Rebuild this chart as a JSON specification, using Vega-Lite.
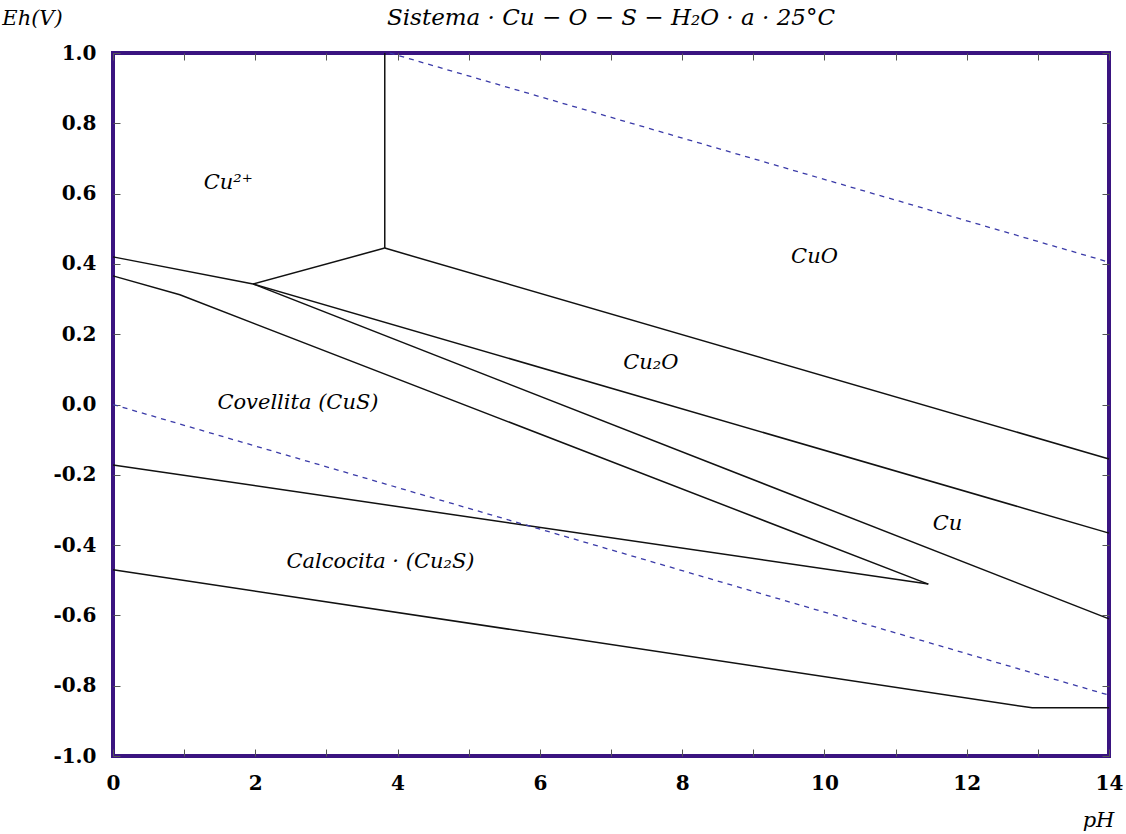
{
  "$schema": "https://vega.github.io/schema/vega-lite/v6.json",
  "width": 996,
  "height": 703,
  "autosize": {"type": "none"},
  "padding": {"left": 113, "top": 53, "right": 17, "bottom": 78},
  "background": "white",
  "config": {"view": {"stroke": "#3a1480", "strokeWidth": 4}},
  "title": {
    "text": "Sistema · Cu − O − S − H₂O · a · 25°C",
    "font": "DejaVu Serif",
    "fontStyle": "italic",
    "fontWeight": "normal",
    "fontSize": 23,
    "color": "#000",
    "anchor": "middle",
    "offset": -23
  },
  "datasets": {
    "solid": [
      {"seg": "A", "i": 0, "pH": 3.82, "Eh": 1.0},
      {"seg": "A", "i": 1, "pH": 3.82, "Eh": 0.445},
      {"seg": "B", "i": 0, "pH": 1.97, "Eh": 0.343},
      {"seg": "B", "i": 1, "pH": 3.82, "Eh": 0.445},
      {"seg": "C", "i": 0, "pH": 0, "Eh": 0.42},
      {"seg": "C", "i": 1, "pH": 1.97, "Eh": 0.343},
      {"seg": "D", "i": 0, "pH": 3.82, "Eh": 0.445},
      {"seg": "D", "i": 1, "pH": 14, "Eh": -0.155},
      {"seg": "E", "i": 0, "pH": 1.97, "Eh": 0.343},
      {"seg": "E", "i": 1, "pH": 14, "Eh": -0.366},
      {"seg": "F", "i": 0, "pH": 1.97, "Eh": 0.343},
      {"seg": "F", "i": 1, "pH": 14, "Eh": -0.61},
      {"seg": "G", "i": 0, "pH": 0, "Eh": 0.366},
      {"seg": "G", "i": 1, "pH": 0.94, "Eh": 0.312},
      {"seg": "G", "i": 2, "pH": 11.46, "Eh": -0.511},
      {"seg": "H", "i": 0, "pH": 0, "Eh": -0.172},
      {"seg": "H", "i": 1, "pH": 11.46, "Eh": -0.511},
      {"seg": "I", "i": 0, "pH": 0, "Eh": -0.47},
      {"seg": "I", "i": 1, "pH": 12.92, "Eh": -0.863},
      {"seg": "I", "i": 2, "pH": 14, "Eh": -0.863}
    ],
    "dashed": [
      {"seg": "J", "i": 0, "pH": 3.89, "Eh": 1.0},
      {"seg": "J", "i": 1, "pH": 14, "Eh": 0.405},
      {"seg": "K", "i": 0, "pH": 0, "Eh": 0.0},
      {"seg": "K", "i": 1, "pH": 14, "Eh": -0.827}
    ],
    "labels": [
      {"label": "Cu²⁺", "pH": 1.62, "Eh": 0.63},
      {"label": "CuO", "pH": 9.86, "Eh": 0.42},
      {"label": "Cu₂O", "pH": 7.56, "Eh": 0.118},
      {"label": "Covellita (CuS)", "pH": 2.6, "Eh": 0.004},
      {"label": "Cu", "pH": 11.73, "Eh": -0.34},
      {"label": "Calcocita · (Cu₂S)", "pH": 3.76, "Eh": -0.448}
    ]
  },
  "layer": [
    {
      "data": {"name": "solid"},
      "mark": {"type": "line", "color": "#111", "strokeWidth": 1.5},
      "encoding": {
        "x": {
          "field": "pH", "type": "quantitative",
          "scale": {"domain": [0, 14], "nice": false, "zero": false},
          "axis": {
            "orient": "bottom",
            "values": [0,1,2,3,4,5,6,7,8,9,10,11,12,13,14],
            "domain": false, "grid": false,
            "ticks": true, "tickSize": -7, "tickColor": "#555", "tickWidth": 1,
            "labelFont": "DejaVu Serif", "labelFontWeight": "bold", "labelFontSize": 20,
            "labelColor": "#000", "labelPadding": 24, "labelFlush": false, "labelOverlap": false,
            "labelExpr": "datum.value % 2 === 0 ? datum.label : ''",
            "title": "pH",
            "titleFont": "DejaVu Serif", "titleFontStyle": "italic", "titleFontWeight": "normal",
            "titleFontSize": 21, "titleColor": "#000",
            "titleX": 985, "titleY": 64, "titleAlign": "center", "titleBaseline": "middle"
          }
        },
        "y": {
          "field": "Eh", "type": "quantitative",
          "scale": {"domain": [-1, 1], "nice": false, "zero": false},
          "axis": {
            "orient": "left",
            "values": [-1,-0.8,-0.6,-0.4,-0.2,0,0.2,0.4,0.6,0.8,1],
            "domain": false, "grid": false,
            "ticks": true, "tickSize": -7, "tickColor": "#555", "tickWidth": 1,
            "labelFont": "DejaVu Serif", "labelFontWeight": "bold", "labelFontSize": 20,
            "labelColor": "#000", "labelPadding": 24, "labelFlush": false, "labelOverlap": false,
            "labelExpr": "replace(format(datum.value, '.1f'), '−', '-')",
            "title": "Eh(V)", "titleAngle": 0,
            "titleFont": "DejaVu Serif", "titleFontStyle": "italic", "titleFontWeight": "normal",
            "titleFontSize": 21, "titleColor": "#000",
            "titleX": -81, "titleY": -35, "titleAlign": "center", "titleBaseline": "middle"
          }
        },
        "detail": {"field": "seg"},
        "order": {"field": "i"}
      }
    },
    {
      "data": {"name": "dashed"},
      "mark": {"type": "line", "color": "#3a3aa8", "strokeWidth": 1.3, "strokeDash": [5, 5]},
      "encoding": {
        "x": {
          "field": "pH", "type": "quantitative",
          "axis": {
            "orient": "top",
            "values": [0,1,2,3,4,5,6,7,8,9,10,11,12,13,14],
            "domain": false, "grid": false, "labels": false, "title": null,
            "ticks": true, "tickSize": -7, "tickColor": "#555", "tickWidth": 1
          }
        },
        "y": {
          "field": "Eh", "type": "quantitative",
          "axis": {
            "orient": "right",
            "values": [-1,-0.8,-0.6,-0.4,-0.2,0,0.2,0.4,0.6,0.8,1],
            "domain": false, "grid": false, "labels": false, "title": null,
            "ticks": true, "tickSize": -7, "tickColor": "#555", "tickWidth": 1
          }
        },
        "detail": {"field": "seg"},
        "order": {"field": "i"}
      }
    },
    {
      "data": {"name": "labels"},
      "mark": {"type": "text", "font": "DejaVu Serif", "fontStyle": "italic", "fontSize": 21, "color": "#000", "align": "center", "baseline": "middle"},
      "encoding": {
        "x": {"field": "pH", "type": "quantitative", "axis": null},
        "y": {"field": "Eh", "type": "quantitative", "axis": null},
        "text": {"field": "label"}
      }
    }
  ],
  "resolve": {"axis": {"x": "independent", "y": "independent"}}
}
